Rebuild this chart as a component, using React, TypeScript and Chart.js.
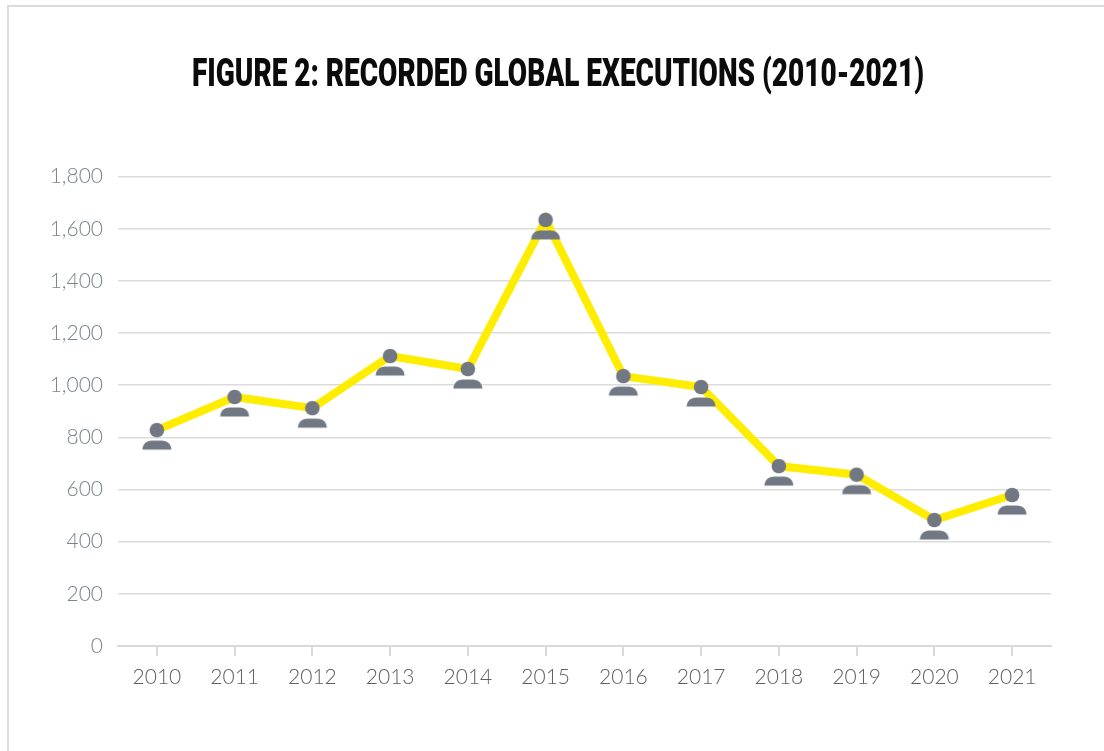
import React, { useEffect, useRef } from "react";
import { Chart, registerables } from "chart.js";

Chart.register(...registerables);

const years = ["2010", "2011", "2012", "2013", "2014", "2015", "2016", "2017", "2018", "2019", "2020", "2021"];
const executions = [828, 955, 912, 1112, 1062, 1634, 1035, 993, 690, 657, 483, 579];
const titleText = "FIGURE 2: RECORDED GLOBAL EXECUTIONS (2010-2021)";

const GREY = "#717883";

function personIcon(): HTMLCanvasElement {
  const c = document.createElement("canvas");
  c.width = 44;
  c.height = 44;
  const g = c.getContext("2d")!;
  g.fillStyle = GREY;
  g.beginPath();
  g.arc(22, 22, 7.3, 0, Math.PI * 2);
  g.fill();
  g.beginPath();
  g.moveTo(7.5, 41.5);
  g.bezierCurveTo(8, 36, 11, 32.5, 17, 32.5);
  g.lineTo(27, 32.5);
  g.bezierCurveTo(33, 32.5, 36, 36, 36.5, 41.5);
  g.closePath();
  g.fill();
  return c;
}

// The title plugin passes its box width to fillText as maxWidth, so a narrower box condenses the title.
const titleSpan = {
  id: "titleSpan",
  afterLayout(chart: any) {
    chart.titleBlock.left = 192;
    chart.titleBlock.right = 924;
  },
};

export default function App() {
  const ref = useRef<HTMLCanvasElement>(null);
  useEffect(() => {
    const chart = new Chart(ref.current!, {
      type: "line",
      plugins: [titleSpan],
      data: {
        labels: years,
        datasets: [
          {
            data: executions,
            borderColor: "#FFED00",
            borderWidth: 8,
            tension: 0,
            pointStyle: personIcon() as any,
            pointRadius: 22,
            borderJoinStyle: "miter",
            clip: false as any,
          },
        ],
      },
      options: {
        animation: false,
        responsive: false,
        layout: { padding: { left: 0, right: 53, top: 0, bottom: 0 } },
        plugins: {
          legend: { display: false },
          tooltip: { enabled: false },
          title: {
            display: true,
            text: titleText,
            color: "#0b0b0b",
            font: { family: "Roboto, 'Liberation Sans', sans-serif", weight: 900, size: 38, lineHeight: 1.2 },
            padding: { top: 54, bottom: 77 },
          },
        },
        scales: {
          x: {
            offset: true,
            border: { color: "#d9d9d9", width: 2 },
            grid: { drawOnChartArea: false, drawTicks: true, tickLength: 10, color: "#d9d9d9", lineWidth: 2 },
            ticks: {
              color: "#5f6063",
              padding: 9,
              maxRotation: 0,
              font: { family: "Lato", weight: 300, size: 21 },
            },
            afterFit: (s: any) => {
              s.height = 105;
            },
          },
          y: {
            min: 0,
            max: 1800,
            border: { display: false },
            grid: { color: "#dcdcdc", lineWidth: 1.5, drawTicks: false },
            ticks: {
              stepSize: 200,
              color: "#7b838e",
              padding: 15,
              font: { family: "Lato", weight: 300, size: 21 },
              callback: (v: any) => Number(v).toLocaleString("en-US"),
            },
            afterFit: (s: any) => {
              s.width = 118;
            },
          },
        },
      },
    });
    return () => chart.destroy();
  }, []);

  return (
    <div style={{ position: "fixed", left: 0, top: 0, width: 1104, height: 751, background: "#fff", overflow: "hidden" }}>
      <div
        style={{
          position: "absolute",
          left: 7,
          top: 5,
          width: 1110,
          height: 760,
          borderLeft: "2px solid #dcdcdc",
          borderTop: "2px solid #dcdcdc",
        }}
      />
      <canvas ref={ref} width={1104} height={751} style={{ position: "absolute", left: 0, top: 0, display: "block" }} />
    </div>
  );
}
